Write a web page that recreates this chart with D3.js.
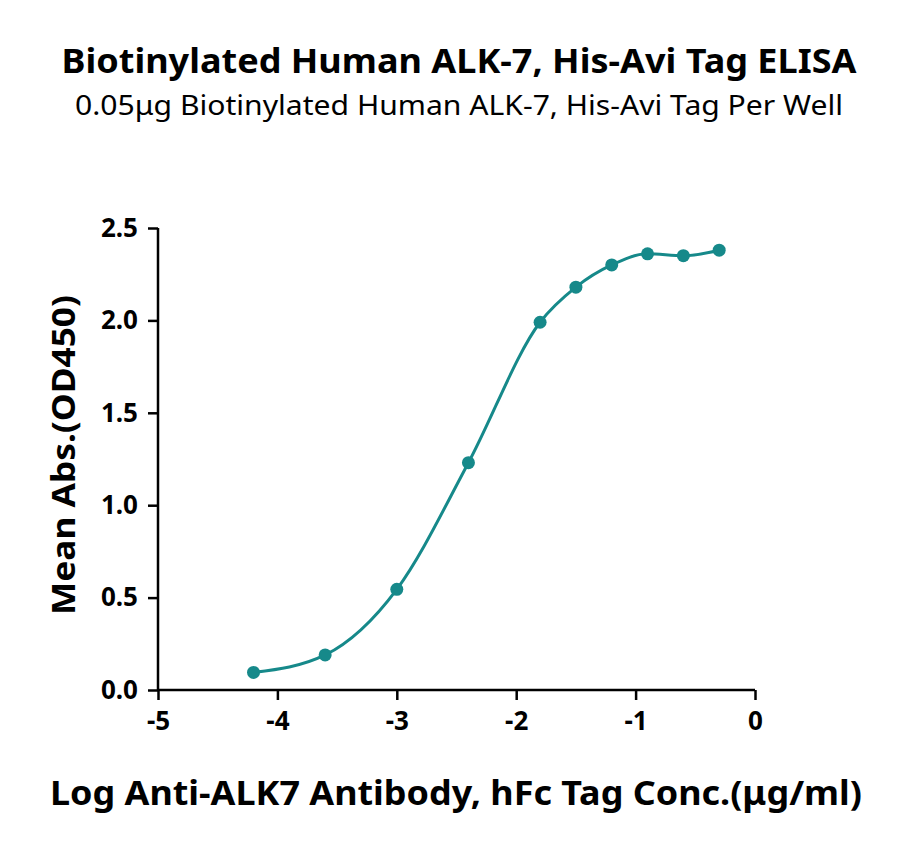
<!DOCTYPE html>
<html><head><meta charset="utf-8">
<script src="https://cdn.jsdelivr.net/npm/d3@7"></script>
<style>body{margin:0;background:#fff}</style>
</head><body>
<svg id="c" width="900" height="846"></svg>
<script>
const xLog = [-4.2, -3.6, -3.0, -2.4, -1.8, -1.5, -1.2, -0.9, -0.6, -0.3];
const yOD  = [0.095, 0.19, 0.545, 1.23, 1.99, 2.18, 2.30, 2.36, 2.35, 2.38];
const xTicks = [-5, -4, -3, -2, -1, 0];
const yTicks = [0.0, 0.5, 1.0, 1.5, 2.0, 2.5];
const color = "#16898a";
const font = "'Noto Sans', 'Open Sans', sans-serif";

const svg = d3.select("#c");
const x = d3.scaleLinear().domain([-5, 0]).range([158, 755]);
const y = d3.scaleLinear().domain([0, 2.5]).range([690, 228]);

svg.append("text").attr("x",459).attr("y",73).attr("text-anchor","middle")
  .style("font-family",font).style("font-weight","bold").style("font-size","34px")
  .attr("textLength",795).attr("lengthAdjust","spacingAndGlyphs")
  .text("Biotinylated Human ALK-7, His-Avi Tag ELISA");
svg.append("text").attr("x",459).attr("y",115).attr("text-anchor","middle")
  .style("font-family",font).style("font-size","27px")
  .attr("textLength",768).attr("lengthAdjust","spacingAndGlyphs")
  .text("0.05μg Biotinylated Human ALK-7, His-Avi Tag Per Well");

const xa = svg.append("g").attr("transform","translate(0,690)")
  .call(d3.axisBottom(x).tickValues(xTicks).tickSize(10).tickPadding(12).tickFormat(d=>String(d)));
const ya = svg.append("g").attr("transform","translate(158,0)")
  .call(d3.axisLeft(y).tickValues(yTicks).tickSize(10).tickPadding(10).tickFormat(d3.format(".1f")));
[xa, ya].forEach(a => {
  a.selectAll("path,line").attr("stroke","#000").attr("stroke-width",2.5);
  a.select(".domain").attr("d", a === xa ? "M158,0H755" : "M0,228V690");
  a.selectAll("text").style("font-family",font).style("font-weight","bold").style("font-size","26px").attr("fill","#000");
});

const pts = xLog.map((v,i)=>[x(v), y(yOD[i])]);
svg.append("path").attr("d", d3.line().curve(d3.curveMonotoneX)(pts))
  .attr("fill","none").attr("stroke",color).attr("stroke-width",3);
svg.selectAll("circle.p").data(xLog).join("circle")
  .attr("cx",(d)=>x(d)).attr("cy",(d,i)=>y(yOD[i])).attr("r",6.5).attr("fill",color);

svg.append("text").attr("x",456).attr("y",805).attr("text-anchor","middle")
  .style("font-family",font).style("font-weight","bold").style("font-size","34px")
  .attr("textLength",812).attr("lengthAdjust","spacingAndGlyphs")
  .text("Log Anti-ALK7 Antibody, hFc Tag Conc.(μg/ml)");
svg.append("text").attr("transform","translate(75,455) rotate(-90)").attr("text-anchor","middle")
  .style("font-family",font).style("font-weight","bold").style("font-size","33px")
  .attr("textLength",320).attr("lengthAdjust","spacingAndGlyphs")
  .text("Mean Abs.(OD450)");
</script>
</body></html>
